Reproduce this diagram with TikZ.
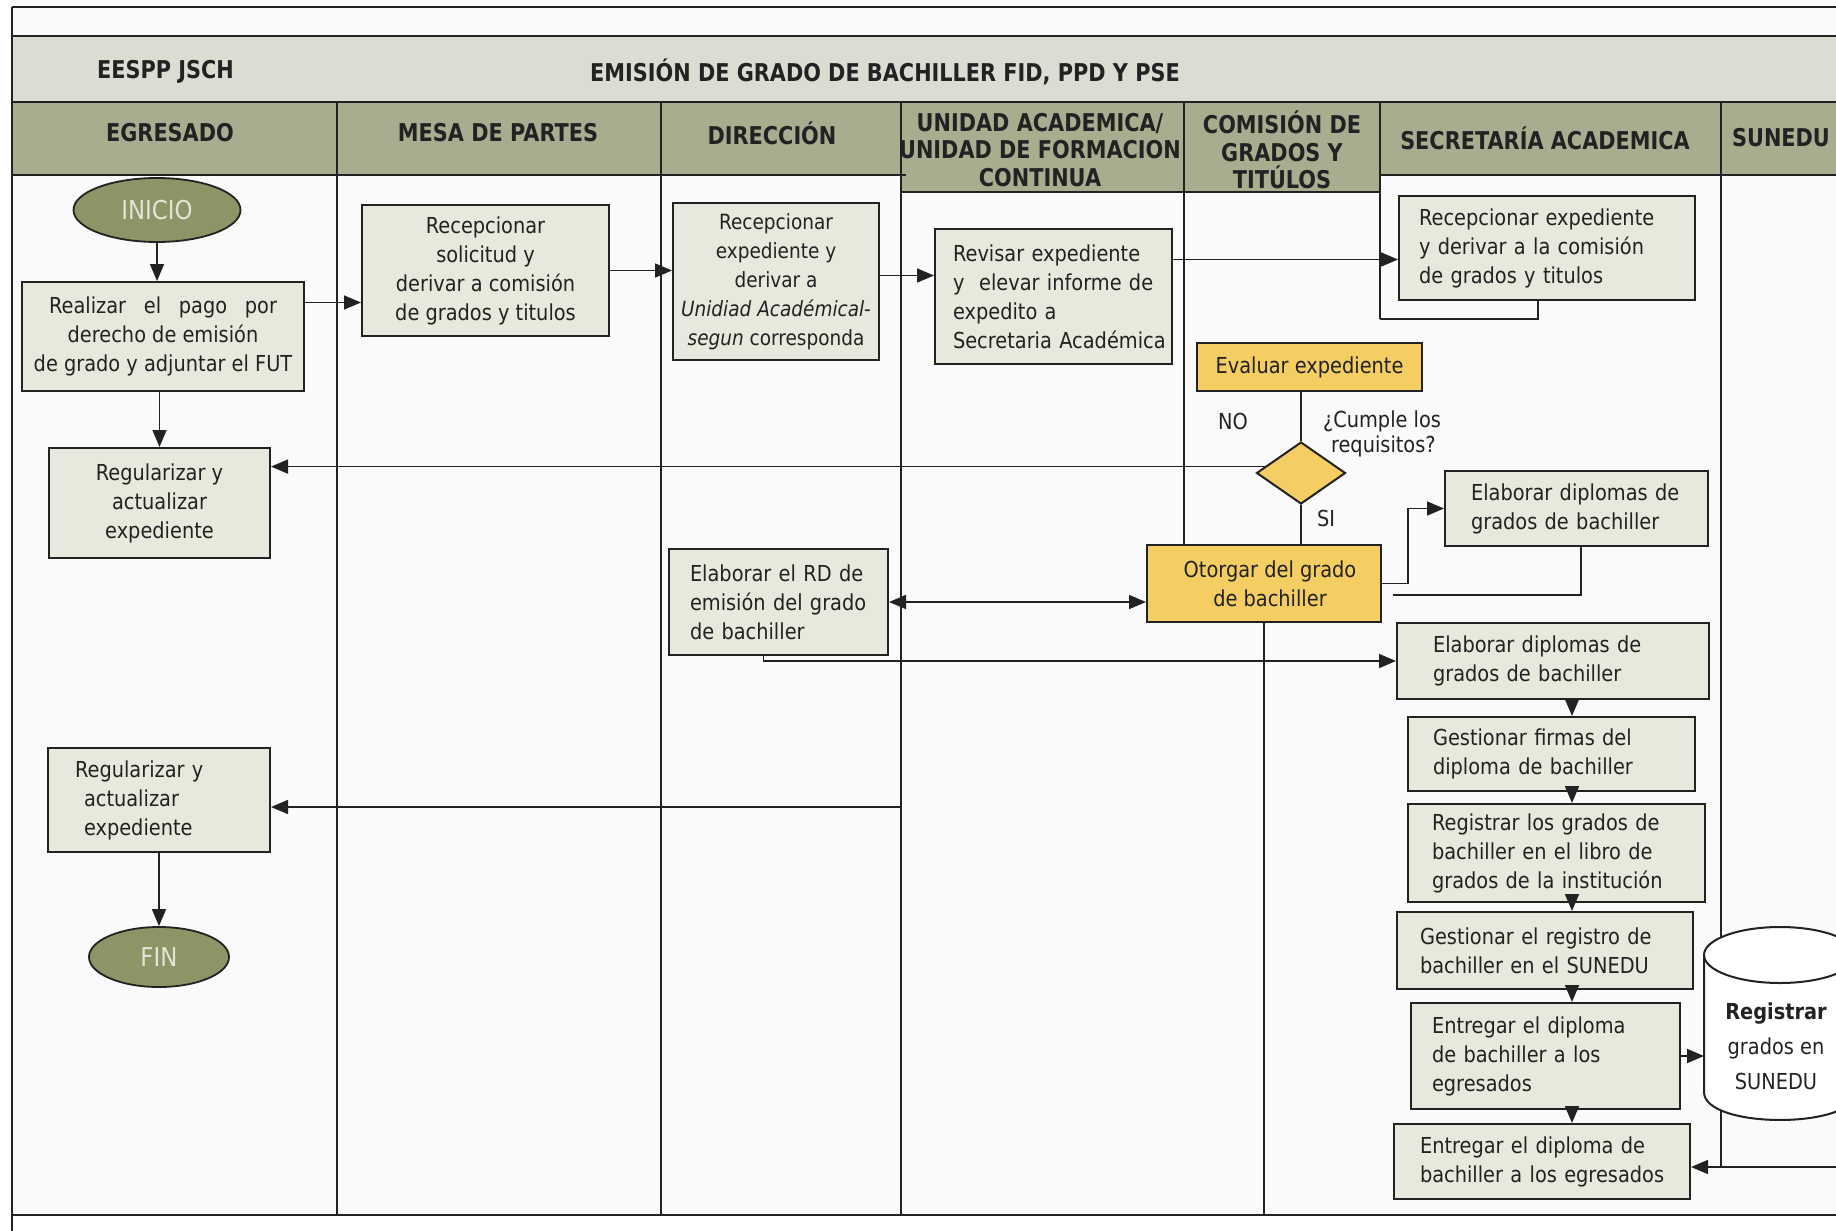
\documentclass[tikz,border=0pt]{standalone}
\usepackage{fontspec}
\setmainfont{DejaVu Sans}[FakeStretch=0.88]
\newfontfamily\hdrfam{DejaVu Sans}[FakeStretch=0.85]
\usetikzlibrary{arrows.meta,shapes.geometric}
\definecolor{boxfill}{HTML}{E8E8DC}
\definecolor{yel}{HTML}{F4CD63}
\definecolor{oliv}{HTML}{8B9565}
\definecolor{hdr}{HTML}{A9AC8F}
\definecolor{ttl}{HTML}{DCDCD3}
\definecolor{bg}{HTML}{FBFAFA}
\definecolor{ink}{HTML}{222222}
\definecolor{termtext}{HTML}{E4E4D6}
\newcommand\bodyfont{\fontsize{22pt}{29pt}\selectfont}
\newcommand\smallbody{\fontsize{21pt}{29pt}\selectfont}
\newcommand\termfont{\fontsize{26pt}{29pt}\selectfont}
\newcommand\lblfont{\fontsize{22pt}{25pt}\selectfont}
\newcommand\cylfont{\fontsize{22pt}{35pt}\selectfont}
\newcommand\hdrfont{\hdrfam\bfseries\fontsize{24.5pt}{27.5pt}\selectfont}
\tikzset{
  box/.style={draw=ink, line width=2pt, fill=boxfill, font=\bodyfont, inner sep=0pt, align=center, text=ink},
  lbox/.style={box, align=left, inner xsep=0pt, text width=#1},
  ybox/.style={box, fill=yel},
  term/.style={ellipse, draw=ink, line width=1.8pt, fill=oliv, text=termtext, font=\termfont, inner sep=0pt},
  lane/.style={draw=ink, line width=1.8pt},
  conn/.style={draw=ink, line width=1.7pt},
  arr/.style={conn, -{Triangle[length=17pt,width=14pt]}},
  darr/.style={conn, {Triangle[length=17pt,width=14pt]}-{Triangle[length=17pt,width=14pt]}},
  hdrtext/.style={font=\hdrfont, align=center, inner sep=0pt, text=ink},
  lbl/.style={font=\lblfont, inner sep=0pt, align=left, text=ink},
}
\begin{document}
\begin{tikzpicture}[x=1pt,y=-1pt]
\useasboundingbox (0,0) rectangle (1836,1231);
\clip (0,0) rectangle (1836,1231);
\fill[white] (0,0) rectangle (1836,1231);
\fill[bg] (12,7) rectangle (1900,1215);
% bands
\fill[ttl] (12,36) rectangle (1900,102);
\fill[hdr] (12,102) rectangle (1900,175);
\fill[hdr] (901,175) rectangle (1380,192);
% frame lines
\draw[lane, line width=1.5pt] (12,7) -- (1900,7);
\draw[lane] (12,7) -- (12,1240);
\draw[lane, line width=2.6pt] (12,36) -- (1900,36);
\draw[lane, line width=2.2pt] (12,102) -- (1900,102);
\draw[lane] (12,175) -- (906,175);
\draw[lane] (1380,175) -- (1900,175);
\draw[lane] (901,192) -- (1380,192);
\draw[lane, line width=2.2pt] (12,1215) -- (1900,1215);
% coordinates
\coordinate (bottom) at (0,1215);
\coordinate (L1) at (337,102);
\coordinate (L2) at (661,102);
\coordinate (L3) at (901,102);
\coordinate (L4) at (1184,102);
\coordinate (L5) at (1380,102);
\coordinate (L6) at (1721,102);
\coordinate (d5bot) at (1380,319);
\coordinate (d6bot) at (1721,1167);
\coordinate (sunR) at (1850,1167);
\coordinate (ua2) at (901,807);
\coordinate (e1end) at (1393,595);
\coordinate (chain) at (1572,0);
\coordinate (cylL) at (1704,1056);
\coordinate (otc) at (1264,583.5);

% lane lines
\draw[lane] (L1) -- (L1 |- bottom);
\draw[lane] (L2) -- (L2 |- bottom);
\draw[lane] (L3) -- (L3 |- bottom);
\draw[lane] (L4) -- (L4 |- otc);
\draw[lane] (otc) -- (otc |- bottom);
\draw[lane] (L5) -- (d5bot);
\draw[lane] (L6) -- (d6bot);

% nodes
\node[term, minimum width=167pt, minimum height=64pt] (ini) at (157,210) {INICIO};
\node[box, minimum width=282pt, minimum height=109pt] (real) at (163,336.5)
  {\makebox[228pt][s]{Realizar el pago por}\\derecho de emisión\\de grado y adjuntar el FUT};
\node[box, minimum width=221pt, minimum height=110pt] (regul1) at (159.5,503)
  {Regularizar y\\actualizar\\expediente};
\node[box, minimum width=247pt, minimum height=131pt] (rec1) at (485.5,270.5)
  {Recepcionar\\solicitud y\\derivar a comisión\\de grados y titulos};
\node[box, font=\smallbody, minimum width=206pt, minimum height=157pt] (rec2) at (776,281.5)
  {Recepcionar\\expediente y\\derivar a\\\textit{Unidiad Académical}-\\\textit{segun} corresponda};
\node[lbox=237pt, minimum height=135pt] (rev) at (1053.5,296.5)
  {\leftskip=18pt Revisar expediente\\y\ \ elevar informe de\\expedito a\\Secretaria Académica\par};
\node[lbox=296pt, minimum height=104pt] (sec1) at (1547,248)
  {\leftskip=20pt Recepcionar expediente\\y derivar a la comisión\\de grados y titulos\par};
\node[ybox, minimum width=225pt, minimum height=48pt] (eval) at (1309.5,367) {Evaluar expediente};
\node[diamond, draw=ink, line width=2pt, fill=yel, minimum width=89pt, minimum height=62pt, inner sep=0pt] (dia) at (1301,473) {};
\node[ybox, minimum width=234pt, minimum height=77pt] (otorg) at (otc)
  {\hspace*{12pt}Otorgar del grado\\\hspace*{12pt}de bachiller};
\node[lbox=263pt, minimum height=75pt] (elab1) at (1576.5,508.5)
  {\leftskip=26pt Elaborar diplomas de\\grados de bachiller\par};
\node[lbox=219pt, minimum height=106pt] (rd) at (778.5,602)
  {\leftskip=21pt Elaborar el RD de\\emisión del grado\\de bachiller\par};
\node[lbox=312pt, minimum height=76pt] (elab2) at (1553,661)
  {\leftskip=36pt Elaborar diplomas de\\grados de bachiller\par};
\node[lbox=287pt, minimum height=74pt] (gest1) at (1551.5,754)
  {\leftskip=25pt Gestionar firmas del\\diploma de bachiller\par};
\node[lbox=297pt, minimum height=98pt] (reg) at (1556.5,853)
  {\leftskip=24pt Registrar los grados de\\bachiller en el libro de\\grados de la institución\par};
\node[lbox=296pt, minimum height=77pt] (gestreg) at (1545,950.5)
  {\leftskip=23pt Gestionar el registro de\\bachiller en el SUNEDU\par};
\node[lbox=269pt, minimum height=106pt] (ent1) at (1545.5,1056)
  {\leftskip=21pt Entregar el diploma\\de bachiller a los\\egresados\par};
\node[lbox=296pt, minimum height=75pt] (ent2) at (1542,1161.5)
  {\leftskip=26pt Entregar el diploma de\\bachiller a los egresados\par};
\node[lbox=222pt, minimum height=104pt] (regul2) at (159,800)
  {\leftskip=27pt Regularizar y\\\hspace*{9pt}actualizar\\\hspace*{9pt}expediente\par};
\node[term, minimum width=140pt, minimum height=60pt] (fin) at (159,957) {FIN};

% cylinder
\fill[white] (1704,955) -- (1704,1092) .. controls (1704,1129.3) and (1856,1129.3) .. (1856,1092) -- (1856,955) -- cycle;
\fill[white] (1780,955) ellipse [x radius=76, y radius=28];
\draw[conn, line width=2pt] (1704,955) -- (1704,1092) .. controls (1704,1129.3) and (1856,1129.3) .. (1856,1092) -- (1856,955);
\draw[conn, line width=2pt] (1780,955) ellipse [x radius=76, y radius=28];
\node[font=\cylfont, align=center, inner sep=0pt, text=ink] (cyl) at (1776,1046)
  {\textbf{Registrar}\\grados en\\SUNEDU};

% headers
\node[hdrtext, anchor=west] (hEE) at (97,72) {EESPP JSCH};
\node[hdrtext] (hTit) at (885,72) {EMISIÓN DE GRADO DE BACHILLER FID, PPD Y PSE};
\node[hdrtext] (hEg) at (170,133) {EGRESADO};
\node[hdrtext] (hMe) at (498,133) {MESA DE PARTES};
\node[hdrtext] (hDi) at (772,133) {DIRECCIÓN};
\node[hdrtext] (hUA) at (1040,150) {UNIDAD ACADEMICA/\\UNIDAD DE FORMACION\\CONTINUA};
\node[hdrtext] (hCo) at (1282,150) {COMISIÓN DE\\GRADOS Y\\TITÚLOS};
\node[hdrtext] (hSe) at (1545,138) {SECRETARÍA ACADEMICA};
\node[hdrtext] (hSu) at (1781,138) {SUNEDU};

% labels
\node[lbl] (no) at (1233,421) {NO};
\node[lbl] (cum) at (1382,434) {¿Cumple los\\\hspace*{8pt}requisitos?};
\node[lbl] (si) at (1326,518) {SI};

% connectors
\draw[arr] (ini.south) -- (ini.south |- real.north);
\draw[arr] (regul1.north |- real.south) -- (regul1.north);
\draw[arr] ([yshift=34pt]real.east) -- ([yshift=34pt]real.east -| rec1.west);
\draw[arr] (rec1.east) -- (rec1.east -| rec2.west);
\draw[arr] ([yshift=6pt]rec2.east) -- ([yshift=6pt]rec2.east -| rev.west);
\draw[arr] ([yshift=37pt]rev.east) -- ([yshift=37pt]rev.east -| sec1.west);
\draw[conn] ([xshift=-9pt]sec1.south) |- (d5bot);
\draw[conn] (eval.south -| dia.north) -- (dia.north);
\draw[arr] (dia.170) -- (dia.170 -| regul1.east);
\draw[conn] (dia.south) -- (dia.south |- otorg.north);
\draw[arr] (otorg.east) -- ++(26,0) |- (elab1.west);
\draw[conn] ([xshift=4.5pt]elab1.south) |- (e1end);
\draw[darr] (rd.east) -- (rd.east -| otorg.west);
\draw[arr] ([xshift=-15pt]rd.south) |- (elab2.west);
\draw[arr] (elab2.south -| chain) -- (gest1.north -| chain);
\draw[arr] (gest1.south -| chain) -- (reg.north -| chain);
\draw[arr] (reg.south -| chain) -- (gestreg.north -| chain);
\draw[arr] (gestreg.south -| chain) -- (ent1.north -| chain);
\draw[arr] (ent1.south -| chain) -- (ent2.north -| chain);
\draw[arr] (ent1.east) -- (ent1.east -| cylL);
\draw[arr] (sunR) -- (sunR -| ent2.east);
\draw[arr] (ua2) -- (ua2 -| regul2.east);
\draw[arr] (regul2.south) -- (fin.north);
\end{tikzpicture}
\end{document}
